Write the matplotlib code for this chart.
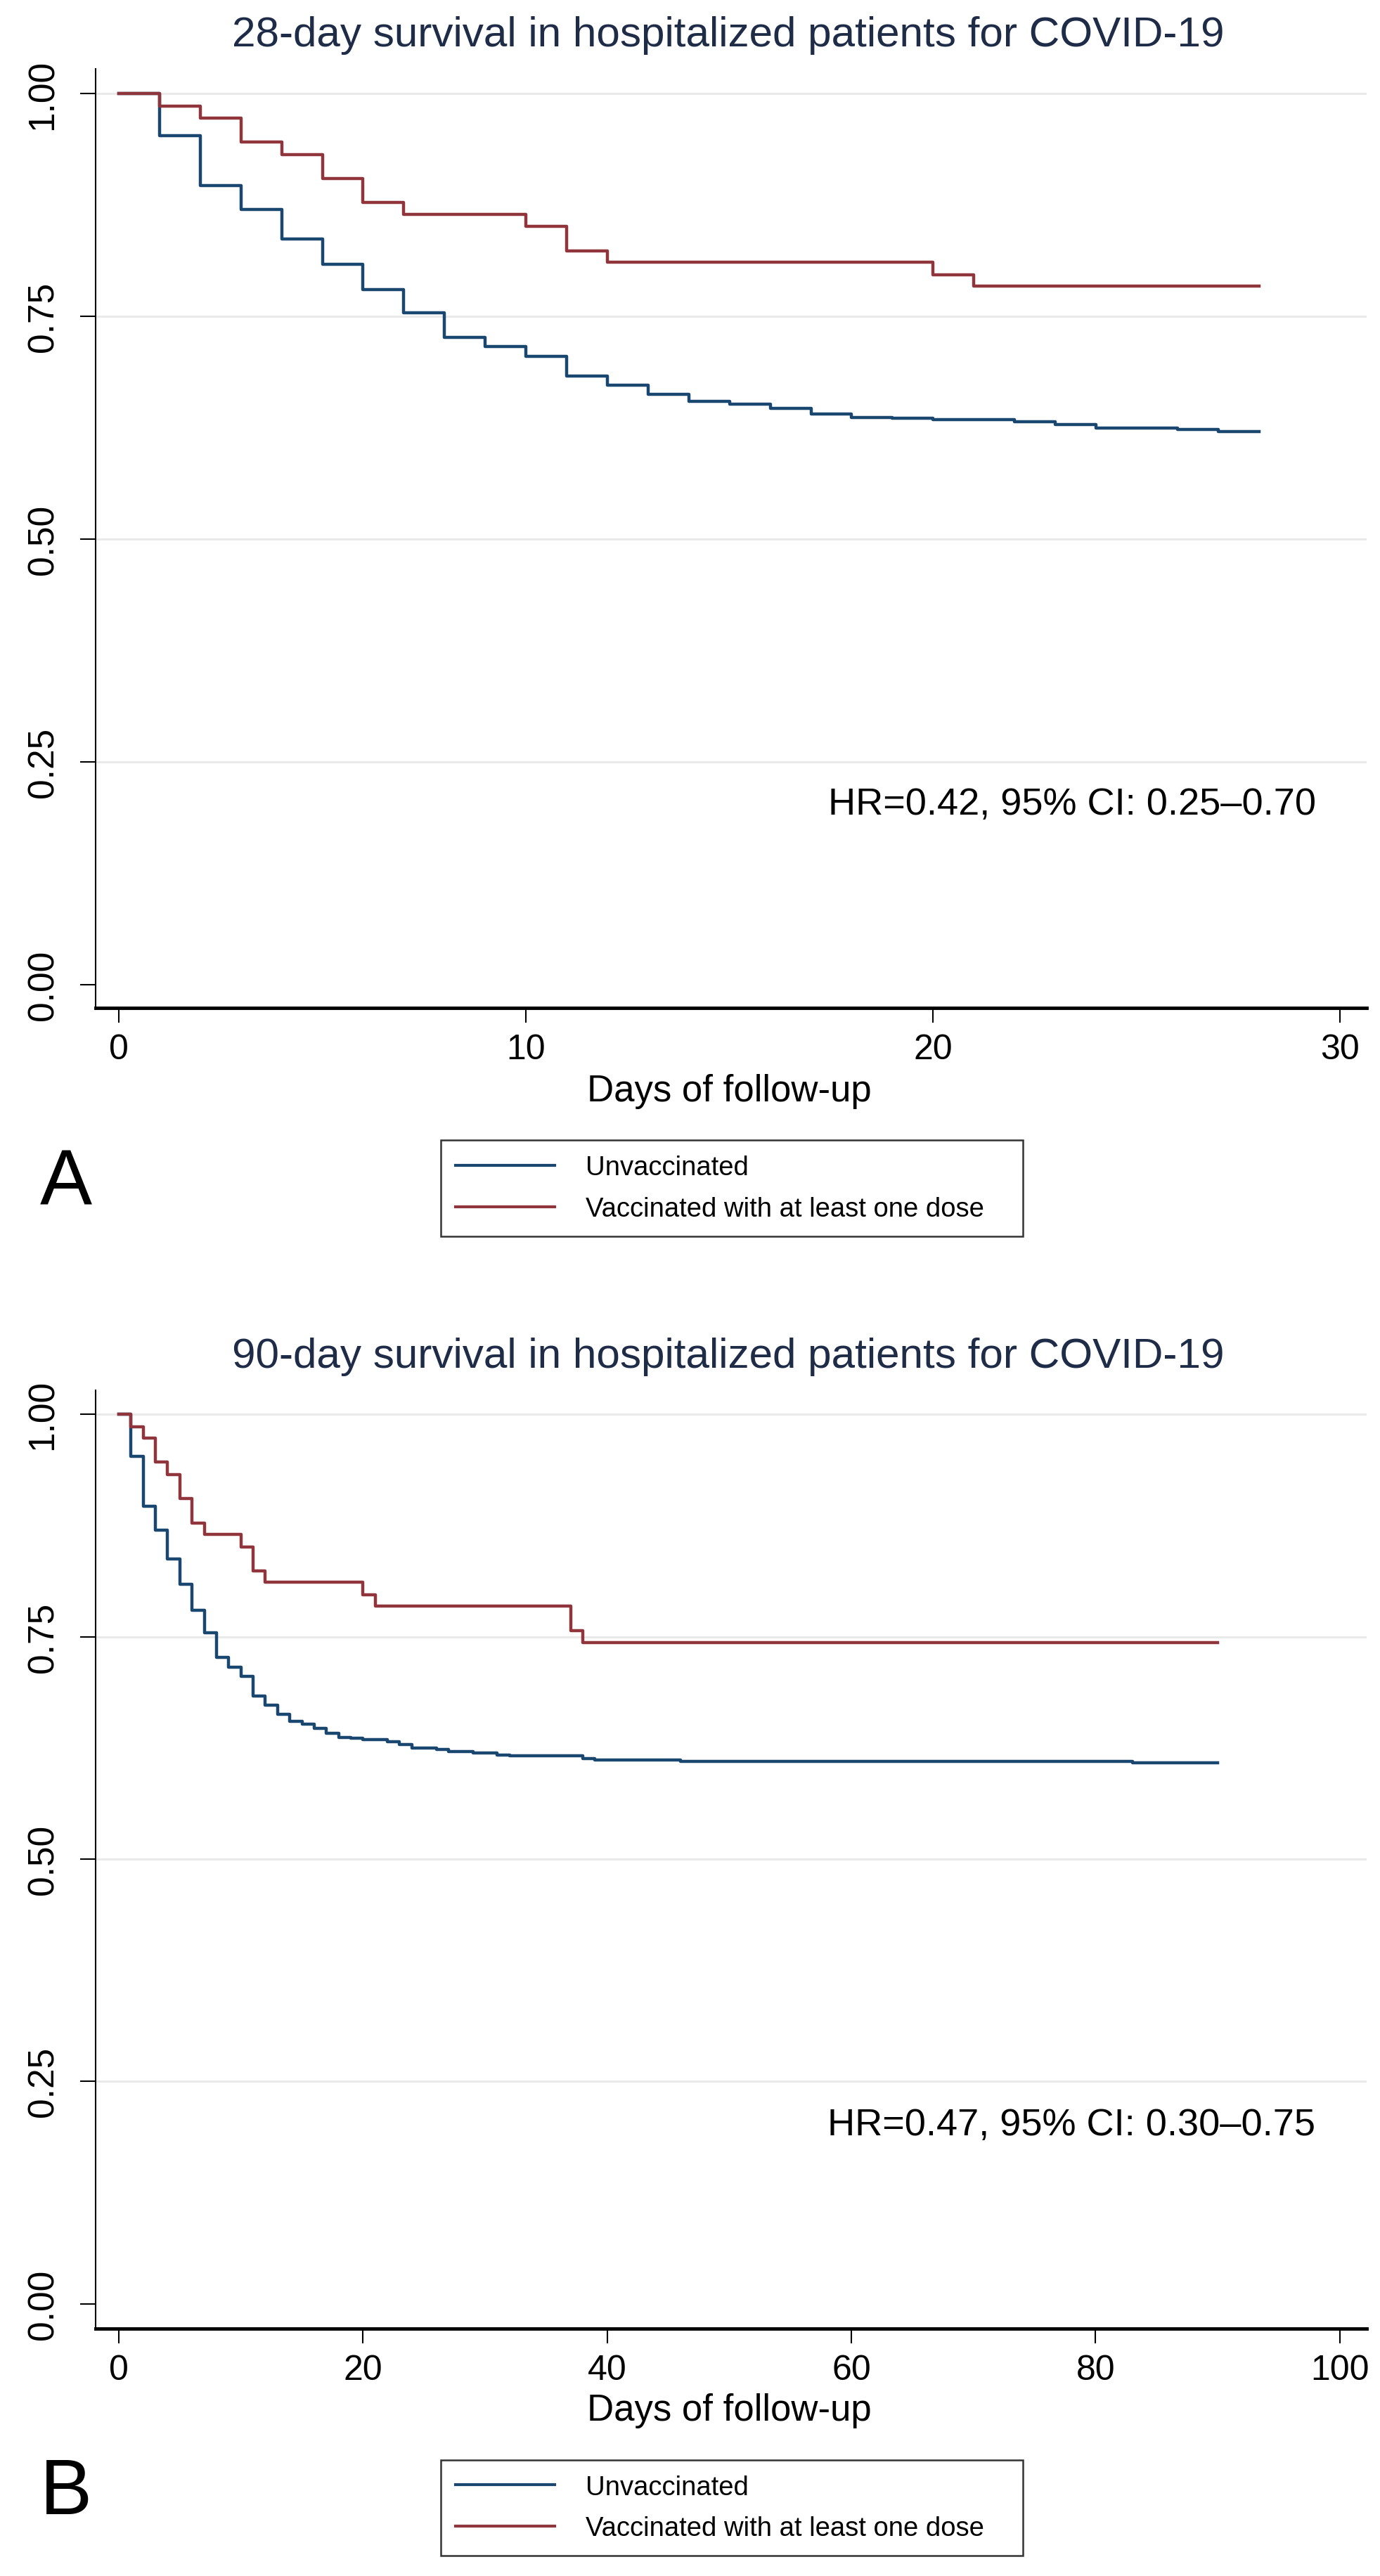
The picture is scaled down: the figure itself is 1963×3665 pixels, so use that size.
import numpy as np
import matplotlib.pyplot as plt

plt.rcParams['font.family'] = ['Liberation Sans', 'DejaVu Sans']

# Kaplan-Meier steps (day, survival)
unvacc_days = [0, 1, 2, 3, 4, 5, 6, 7, 8, 9, 10, 11, 12, 13, 14, 15, 16, 17, 18, 19,
               20, 22, 23, 24, 26, 27, 29, 31, 32, 38, 39, 46, 83]
unvacc_surv = [1.0, 0.953, 0.897, 0.870, 0.837, 0.809, 0.780, 0.754, 0.727, 0.716,
               0.705, 0.683, 0.673, 0.663, 0.655, 0.652, 0.647, 0.641, 0.637, 0.636,
               0.634, 0.632, 0.629, 0.625, 0.623, 0.621, 0.619, 0.617, 0.616, 0.613,
               0.611, 0.610, 0.608]
vacc_days = [0, 1, 2, 3, 4, 5, 6, 7, 10, 11, 12, 20, 21, 37, 38]
vacc_surv = [1.0, 0.986, 0.973, 0.946, 0.932, 0.905, 0.878, 0.865, 0.851, 0.824,
             0.811, 0.797, 0.784, 0.757, 0.743]

follow_up = [28, 90]
series_labels = ['Unvaccinated', 'Vaccinated with at least one dose']
titles = ['28-day survival in hospitalized patients for COVID-19',
          '90-day survival in hospitalized patients for COVID-19']
hr_texts = ['HR=0.42, 95% CI: 0.25\u20130.70', 'HR=0.47, 95% CI: 0.30\u20130.75']
panel_letters = ['A', 'B']
y_ticks = [0, 0.25, 0.5, 0.75, 1.0]
y_ticklabels = ['0.00', '0.25', '0.50', '0.75', '1.00']
x_ticks = [[0, 10, 20, 30], [0, 20, 40, 60, 80, 100]]

navy = '#1a476f'
maroon = '#90353b'
title_col = '#1e2c48'


def km_steps(days, surv, end):
    d = [t for t in days if t <= end]
    s = list(surv[:len(d)])
    return d + [end], s + [s[-1]]


W, H = 1963, 3666
fig = plt.figure(figsize=(W / 100, H / 100), dpi=100)

# pixel positions of the two panels
layout = [
    dict(top=99, bot=1435, title=51, xlab=1553, leg=(1615, 1768), letter=1685,
         xlim=(-0.57, 30.65), ylim=(-0.026, 1.028), hr=(29.4, 0.203)),
    dict(top=1979, bot=3314, title=1931, xlab=3430, leg=(3493, 3645), letter=3548,
         xlim=(-1.9, 102.2), ylim=(-0.028, 1.027), hr=(98.0, 0.201)),
]

for i, L in enumerate(layout):
    ax = fig.add_axes([136 / W, 1 - L['bot'] / H, (1944 - 136) / W, (L['bot'] - L['top']) / H])
    for yv in y_ticks[1:]:
        ax.axhline(yv, color='#eaeaea', lw=2.2, zorder=0)
    x, y = km_steps(unvacc_days, unvacc_surv, follow_up[i])
    l1, = ax.step(x, y, where='post', color=navy, lw=3.2, label=series_labels[0])
    x, y = km_steps(vacc_days, vacc_surv, follow_up[i])
    l2, = ax.step(x, y, where='post', color=maroon, lw=3.2, label=series_labels[1])

    ax.set_xlim(*L['xlim'])
    ax.set_ylim(*L['ylim'])
    ax.set_xticks(x_ticks[i])
    ax.set_xticklabels([str(t) for t in x_ticks[i]], fontsize=36)
    ax.set_yticks(y_ticks)
    ax.set_yticklabels(y_ticklabels, rotation=90, va='center', fontsize=37)
    ax.tick_params(axis='y', length=16, width=1.5, pad=20)
    ax.tick_params(axis='x', length=15, width=1.5, pad=11)
    for s in ['top', 'right']:
        ax.spines[s].set_visible(False)
    ax.spines['left'].set_linewidth(1.5)
    ax.spines['bottom'].set_linewidth(3.5)

    ax.text(L['hr'][0], L['hr'][1], hr_texts[i], ha='right', va='center', fontsize=39)

    fig.text(1036 / W, 1 - L['title'] / H, titles[i], ha='center', va='center',
             fontsize=43.4, color=title_col)
    fig.text(1037 / W, 1 - L['xlab'] / H, 'Days of follow-up', ha='center', va='center',
             fontsize=38)
    fig.text(94 / W, 1 - L['letter'] / H, panel_letters[i], ha='center', va='center',
             fontsize=80)

    lt, lb = L['leg']
    leg = fig.legend([l1, l2], series_labels, loc='center', mode='expand',
                     bbox_to_anchor=(627 / W, 1 - lb / H, 828 / W, (lb - lt) / H),
                     fontsize=27.5, frameon=True, fancybox=False, edgecolor='black',
                     handlelength=3.7, handletextpad=1.15, borderpad=0.55,
                     labelspacing=0.6, borderaxespad=0)
    leg.get_frame().set_linewidth(1.8)
    for h in leg.get_lines():
        h.set_linewidth(3)

fig.savefig('out.png', dpi=100, facecolor='white')
